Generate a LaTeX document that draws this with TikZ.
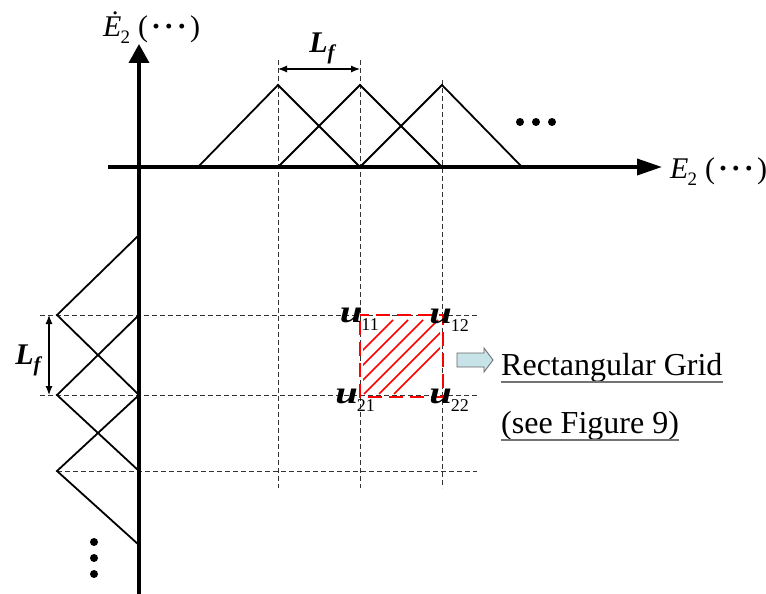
\documentclass[tikz,border=0pt]{standalone}
\usepackage{fontspec}
\setmainfont{Liberation Serif}
\usetikzlibrary{arrows.meta}
\definecolor{arrcyan}{RGB}{198,228,232}
\tikzset{
  axis/.style={line width=3.6pt},
  tri/.style={line width=1.8pt, line join=miter},
  grid/.style={line width=0.9pt, dash pattern=on 5pt off 3pt, black!80},
  dim/.style={line width=1.2pt, {Latex[length=9pt,width=7pt]}-{Latex[length=9pt,width=7pt]}},
  lab/.style={inner sep=0pt, font=\fontsize{30}{36}\selectfont},
  ulab/.style={inner sep=0pt, font=\fontsize{30}{34}\selectfont\bfseries\itshape},
  dot/.style={fill=black, circle, inner sep=0pt, minimum size=8pt},
}
\newcommand{\subn}[1]{\raisebox{-7pt}{\upshape\mdseries\fontsize{19}{22}\selectfont #1}}
\newcommand{\usub}[1]{\raisebox{-8pt}{\upshape\mdseries\fontsize{18}{22}\selectfont #1}}
\newcommand{\bigu}{\scalebox{1.35}[1.05]{u}}
\newcommand{\mydots}{{\bfseries ·\kern3pt·\kern3pt·}}
\begin{document}
\begin{tikzpicture}[x=1pt,y=-1pt]
\useasboundingbox (0,0) rectangle (766,594);
% key coordinates
\coordinate (xs) at (108,167);
\coordinate (xe) at (662,167);
\coordinate (ys) at (139,594);
\coordinate (ye) at (139,44);
% top peaks
\coordinate (p1) at (278,85);
\coordinate (p2) at (360,85);
\coordinate (p3) at (442,85);
\coordinate (b0) at (198,167);
\coordinate (b1) at (278,167);
\coordinate (b2) at (360,167);
\coordinate (b3) at (442,167);
\coordinate (b4) at (522,167);
% left peaks
\coordinate (q1) at (57,315);
\coordinate (q2) at (57,395);
\coordinate (q3) at (57,471);
\coordinate (a0) at (139,235);
\coordinate (a1) at (139,315);
\coordinate (a2) at (139,395);
\coordinate (a3) at (139,471);
\coordinate (a4) at (139,545);
% dashed grid
\coordinate (v1t) at (278,60); \coordinate (v1b) at (278,488);
\coordinate (v2t) at (360,60); \coordinate (v2b) at (360,488);
\coordinate (v3t) at (442,80); \coordinate (v3b) at (442,488);
\coordinate (h1l) at (40,315); \coordinate (h1r) at (477,315);
\coordinate (h2l) at (40,395); \coordinate (h2r) at (477,395);
\coordinate (h3l) at (57,471); \coordinate (h3r) at (477,471);
\draw[grid] (v1t) -- (v1b);
\draw[grid] (v2t) -- (v2b);
\draw[grid] (v3t) -- (v3b);
\draw[grid] (h1l) -- (h1r);
\draw[grid] (h2l) -- (h2r);
\draw[grid] (h3l) -- (h3r);
% triangles
\draw[tri] (b0) -- (p1) -- (b2);
\draw[tri] (b1) -- (p2) -- (b3);
\draw[tri] (b2) -- (p3) -- (b4);
\draw[tri] (a0) -- (q1) -- (a2);
\draw[tri] (a1) -- (q2) -- (a3);
\draw[tri] (a2) -- (q3) -- (a4);
% axes
\draw[axis, -{Triangle[length=25pt,width=16pt]}] (xs) -- (xe);
\draw[axis, -{Triangle[length=19pt,width=20pt]}] (ys) -- (ye);
% ellipsis dots
\node[dot] (d1) at (520,122) {};
\node[dot] (d2) at (536,122) {};
\node[dot] (d3) at (552,122) {};
\node[dot] (e1) at (94,542) {};
\node[dot] (e2) at (94,558) {};
\node[dot] (e3) at (94,574) {};
% dimension arrows
\coordinate (lf1) at (278,69); \coordinate (lf2) at (360,69);
\draw[dim] (lf1) -- (lf2);
\coordinate (lg1) at (49,315); \coordinate (lg2) at (49,395);
\draw[dim] (lg1) -- (lg2);
\node[lab, font=\fontsize{30}{36}\selectfont\bfseries\itshape] (Lf1) at (322,48) {L\raisebox{-7pt}{\fontsize{21}{24}\selectfont f}};
\node[lab, font=\fontsize{30}{36}\selectfont\bfseries\itshape] (Lf2) at (28,360) {L\raisebox{-7pt}{\fontsize{21}{24}\selectfont f}};
% axis labels
\node[lab, anchor=base west] (xl) at (670,178) {\textit{E}\kern-1pt\subn{2}\kern8pt(\kern3pt\mydots\kern3pt)};
\node[lab, anchor=base west] (yl) at (103,37) {\textit{Ė}\kern-1pt\subn{2}\kern8pt(\kern3pt\mydots\kern3pt)};
% red hatched square
\coordinate (s1) at (360,315);
\coordinate (s2) at (443,397);
\begin{scope}
\clip (363,318) rectangle (440,394);
\foreach \c in {713,728,743,758,773,788} {
  \draw[red, line width=1.5pt] (\c-320,320) -- (\c-394,394);
}
\end{scope}
\draw[red, line width=1.8pt, dash pattern=on 14pt off 7pt, dash phase=-6pt] (s1) rectangle (s2);
% corner labels
\node[ulab, anchor=base east] (u11) at (379,322) {\bigu\kern-1pt\usub{11}};
\node[ulab, anchor=base east] (u12) at (469,323) {\bigu\kern-1pt\usub{12}};
\node[ulab, anchor=base east] (u21) at (375,403) {\bigu\kern-1pt\usub{21}};
\node[ulab, anchor=base east] (u22) at (469,403) {\bigu\kern-1pt\usub{22}};
% block arrow
\draw[fill=arrcyan, draw=black!60, line width=0.8pt]
  (457,353) -- (484,353) -- (484,348) -- (493,360) -- (484,372) -- (484,367) -- (457,367) -- cycle;
\node[lab, anchor=base west, font=\fontsize{32}{38}\selectfont] (rg) at (501,375) {Rectangular Grid};
\node[lab, anchor=base west, font=\fontsize{32}{38}\selectfont] (sf) at (501,433) {(see Figure 9)};
\draw[black!55, line width=1.2pt] ([yshift=-7pt]rg.base west) -- ([yshift=-7pt]rg.base east);
\draw[black!55, line width=1.2pt] ([yshift=-7pt]sf.base west) -- ([yshift=-7pt]sf.base east);
\end{tikzpicture}
\end{document}
